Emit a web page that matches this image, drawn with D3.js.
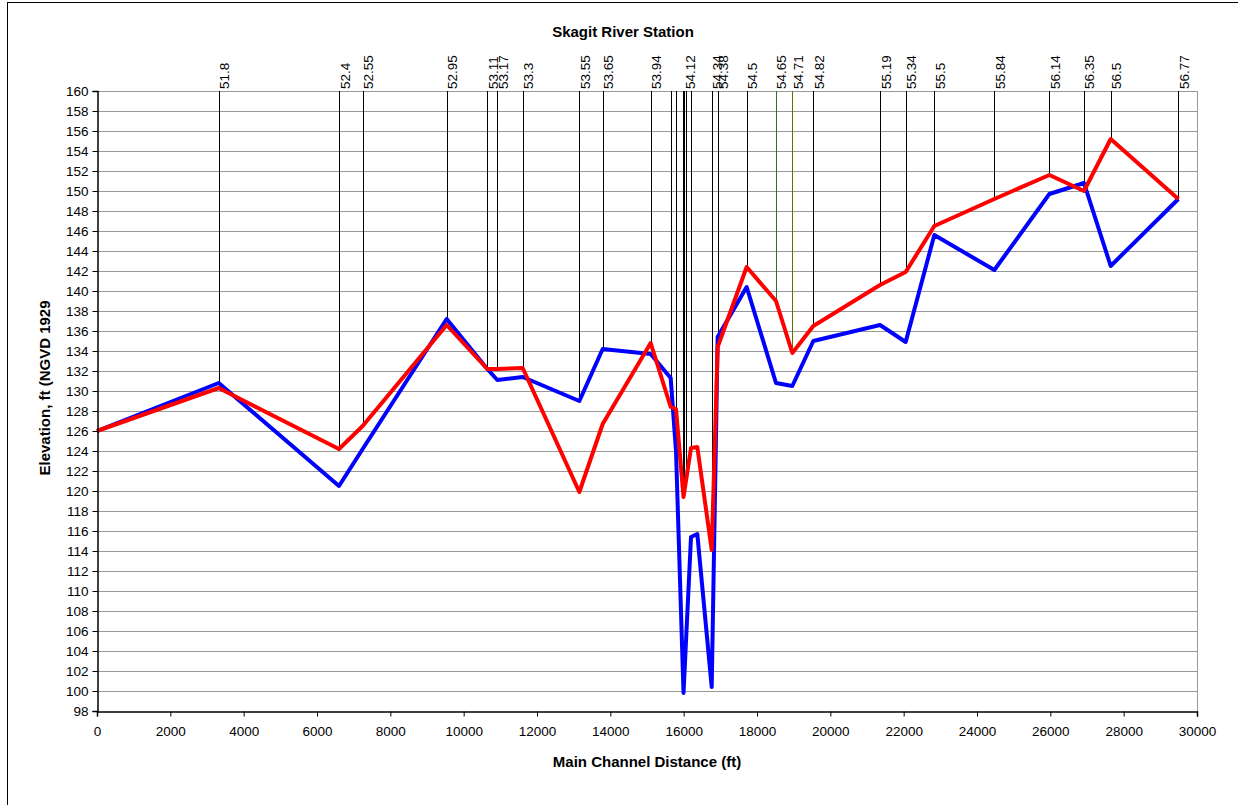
<!DOCTYPE html>
<html>
<head>
<meta charset="utf-8">
<script src="https://cdn.jsdelivr.net/npm/d3@7.9.0/dist/d3.min.js"></script>
<style>
  body { margin: 0; background: #fff; }
  svg { font-family: "Liberation Sans", Arial, sans-serif; }
</style>
</head>
<body>
<div id="chart"></div>
<script>
// Main channel distance (ft) of each profile point
const distance = [0, 3319, 6600, 7245, 9536, 10645, 10918, 11610, 13155, 13791, 15100,
  15646, 15791, 15996, 16200, 16372, 16765, 16927, 17718, 18518, 18963, 19536,
  21355, 22055, 22836, 24473, 25973, 26918, 27646, 29491];
// blue profile
const bluePts = [126.0, 130.8, 120.5, 124.2, 137.2, 132.2, 131.1, 131.4, 129.0, 134.2, 133.7,
  131.3, 124.0, 99.8, 115.4, 115.7, 100.4, 135.4, 140.4, 130.8, 130.5, 135.0,
  136.6, 134.9, 145.6, 142.1, 149.7, 150.8, 142.5, 149.2];
// red profile
const redPts = [126.0, 130.3, 124.2, 126.5, 136.6, 132.2, 132.2, 132.3, 119.9, 126.7, 134.8,
  128.4, 128.2, 119.4, 124.3, 124.4, 114.1, 134.4, 142.4, 139.0, 133.8, 136.5,
  140.6, 141.9, 146.5, 149.2, 151.6, 150.0, 155.2, 149.2];

// river stations (vertical markers)
const stationDist = [3319, 6600, 7245, 9536, 10645, 10918, 11610, 13155, 13791, 15100,
  15646, 15791, 15985, 16020, 16055, 16200, 16765, 16927, 17718, 18518, 18963, 19536,
  21355, 22055, 22836, 24473, 25973, 26918, 27646, 29491];
const stationLabels = ['51.8', '52.4', '52.55', '52.95', '53.11', '53.17', '53.3', '53.55', '53.65', '53.94',
  '', '', '', '54.12', '', '', '54.34', '54.38', '54.5', '54.65', '54.71', '54.82',
  '55.19', '55.34', '55.5', '55.84', '56.14', '56.35', '56.5', '56.77'];

const xTicks = d3.range(0, 30001, 2000);
const yTicks = d3.range(98, 161, 2);

const W = 1238, H = 805;
const margin = { left: 97, right: 41, top: 91, bottom: 94 };

const svg = d3.select('#chart').append('svg')
  .attr('width', W).attr('height', H);

// outer chart border
svg.append('rect')
  .attr('x', 7.5).attr('y', 2.5)
  .attr('width', 1300).attr('height', 1000)
  .attr('fill', 'none').attr('stroke', '#000');

const x = d3.scaleLinear().domain([0, 30000]).range([margin.left, W - margin.right]);
const y = d3.scaleLinear().domain([98, 160]).range([H - margin.bottom, margin.top]);

// gridlines
svg.append('g')
  .selectAll('line')
  .data(yTicks.slice(1))
  .join('line')
  .attr('x1', x(0)).attr('x2', x(30000))
  .attr('y1', d => Math.round(y(d)) + 0.5).attr('y2', d => Math.round(y(d)) + 0.5)
  .attr('stroke', '#999').attr('stroke-width', 1);

// right frame
svg.append('line')
  .attr('x1', Math.round(x(30000)) + 0.5).attr('x2', Math.round(x(30000)) + 0.5)
  .attr('y1', y(160)).attr('y2', y(98))
  .attr('stroke', '#999');

// helper: interpolate a series at a distance
function valueAt(series, d) {
  const i = d3.bisectLeft(distance, d);
  if (distance[i] === d) return series[i];
  const i0 = Math.max(0, i - 1), i1 = Math.min(distance.length - 1, i);
  const t = (d - distance[i0]) / (distance[i1] - distance[i0]);
  return series[i0] + t * (series[i1] - series[i0]);
}

const stationColor = { '54.65': '#2f6f2f', '54.71': '#6b6b00' };

// station drop lines
const stations = stationDist.map((d, i) => ({ dist: d, label: stationLabels[i] }));
svg.append('g')
  .selectAll('line')
  .data(stations)
  .join('line')
  .attr('x1', d => Math.round(x(d.dist)) + 0.5)
  .attr('x2', d => Math.round(x(d.dist)) + 0.5)
  .attr('y1', y(160))
  .attr('y2', d => y(Math.max(valueAt(bluePts, d.dist), valueAt(redPts, d.dist))))
  .attr('stroke', d => stationColor[d.label] || '#000')
  .attr('stroke-width', 1);

// station labels
svg.append('g')
  .selectAll('text')
  .data(stations.filter(d => d.label !== ''))
  .join('text')
  .attr('transform', d => `translate(${x(d.dist) + 10.5},${y(160) - 2}) rotate(-90)`)
  .attr('font-size', 13.5)
  .text(d => d.label);

// profiles
const line = d3.line()
  .x((d, i) => x(distance[i]))
  .y(d => y(d));

svg.append('path')
  .datum(bluePts)
  .attr('d', line)
  .attr('fill', 'none')
  .attr('stroke', '#0000ff')
  .attr('stroke-width', 4)
  .attr('stroke-linejoin', 'round');

svg.append('path')
  .datum(redPts)
  .attr('d', line)
  .attr('fill', 'none')
  .attr('stroke', '#ff0000')
  .attr('stroke-width', 4)
  .attr('stroke-linejoin', 'round');

// axes
const xAxis = svg.append('g')
  .attr('transform', `translate(0,${Math.round(y(98)) + 0.5})`)
  .call(d3.axisBottom(x).tickValues(xTicks).tickFormat(d3.format('d')).tickSize(5).tickPadding(10));
const yAxis = svg.append('g')
  .attr('transform', `translate(${Math.round(x(0)) + 0.5},0)`)
  .call(d3.axisLeft(y).tickValues(yTicks).tickFormat(d3.format('d')).tickSize(5).tickPadding(4));

[xAxis, yAxis].forEach(g => {
  g.select('.domain').attr('stroke', '#000').attr('stroke-width', 1.5);
  g.selectAll('.tick line').attr('stroke', '#000');
  g.selectAll('.tick text')
    .attr('font-family', '"Liberation Sans", Arial, sans-serif')
    .attr('font-size', 13.5)
    .attr('fill', '#000');
});

// titles
svg.append('text')
  .attr('x', 623).attr('y', 37)
  .attr('text-anchor', 'middle')
  .attr('font-size', 15).attr('font-weight', 'bold')
  .text('Skagit River Station');

svg.append('text')
  .attr('x', 647).attr('y', 767)
  .attr('text-anchor', 'middle')
  .attr('font-size', 15).attr('font-weight', 'bold')
  .text('Main Channel Distance (ft)');

svg.append('text')
  .attr('transform', `translate(50,388) rotate(-90)`)
  .attr('text-anchor', 'middle')
  .attr('font-size', 15).attr('font-weight', 'bold')
  .text('Elevation, ft (NGVD 1929');
</script>
</body>
</html>
